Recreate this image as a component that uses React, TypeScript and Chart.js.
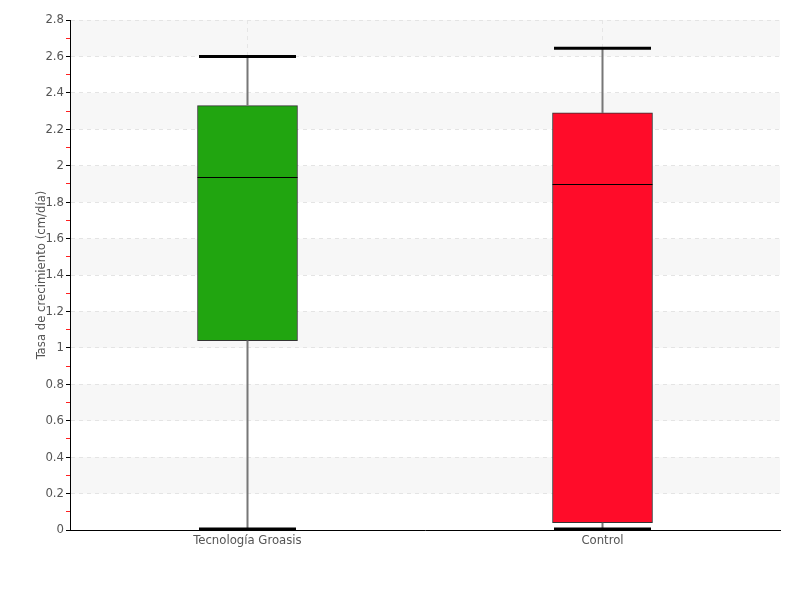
import React, { useEffect, useRef } from 'react';
import { Chart, registerables } from 'chart.js';

Chart.register(...registerables);

const categories = ['Tecnología Groasis', 'Control'];
const minValues = [0.005, 0.005];
const q1Values = [1.04, 0.04];
const medianValues = [1.94, 1.9];
const q3Values = [2.33, 2.29];
const maxValues = [2.6, 2.645];
const boxColors = ['#21a510', '#ff0c29'];
const yMin = 0;
const yMax = 2.8;
const yStep = 0.1;
const bandRanges = [
  [0.2, 0.4],
  [0.6, 0.8],
  [1.0, 1.2],
  [1.4, 1.6],
  [1.8, 2.0],
  [2.2, 2.4],
  [2.6, 2.8],
];
const yTitle = 'Tasa de crecimiento (cm/día)';

const FONT = "'Liberation Sans Narrow', 'DejaVu Sans Condensed', sans-serif";

const bandPlugin = {
  id: 'bands',
  beforeDraw(chart: any) {
    const { ctx, chartArea, scales } = chart;
    const y = scales.y;
    ctx.save();
    ctx.fillStyle = '#f7f7f7';
    bandRanges.forEach(([a, b]) => {
      const y1 = y.getPixelForValue(b);
      const y2 = y.getPixelForValue(a);
      ctx.fillRect(chartArea.left, y1, chartArea.right - chartArea.left, y2 - y1);
    });
    ctx.restore();
  },
};

const whiskerPlugin = {
  id: 'whiskers',
  afterDatasetsDraw(chart: any) {
    const { ctx, scales } = chart;
    const x = scales.x;
    const y = scales.y;
    const meta = chart.getDatasetMeta(0);
    ctx.save();
    categories.forEach((_, i) => {
      const cx = x.getPixelForValue(i);
      const bar = meta.data[i];
      const half = bar ? bar.width / 2 : 50;
      const capHalf = half - 1.5;
      const pMin = y.getPixelForValue(minValues[i]);
      const pQ1 = y.getPixelForValue(q1Values[i]);
      const pMed = y.getPixelForValue(medianValues[i]);
      const pQ3 = y.getPixelForValue(q3Values[i]);
      const pMax = y.getPixelForValue(maxValues[i]);
      // whiskers
      ctx.strokeStyle = '#777777';
      ctx.lineWidth = 2;
      ctx.beginPath();
      ctx.moveTo(cx, pQ1);
      ctx.lineTo(cx, pMin);
      ctx.moveTo(cx, pQ3);
      ctx.lineTo(cx, pMax);
      ctx.stroke();
      // caps
      ctx.strokeStyle = '#000000';
      ctx.lineWidth = 3;
      ctx.beginPath();
      ctx.moveTo(cx - capHalf, pMin);
      ctx.lineTo(cx + capHalf, pMin);
      ctx.moveTo(cx - capHalf, pMax);
      ctx.lineTo(cx + capHalf, pMax);
      ctx.stroke();
      // median
      ctx.strokeStyle = '#000000';
      ctx.lineWidth = 1;
      ctx.beginPath();
      ctx.moveTo(cx - half, Math.round(pMed) + 0.5);
      ctx.lineTo(cx + half, Math.round(pMed) + 0.5);
      ctx.stroke();
    });
    ctx.restore();
  },
};

function fmt(v: number) {
  return String(Number(v.toFixed(1)));
}

export default function App() {
  const ref = useRef<HTMLCanvasElement | null>(null);
  useEffect(() => {
    if (!ref.current) return;
    const chart = new Chart(ref.current, {
      type: 'bar',
      data: {
        labels: categories,
        datasets: [
          {
            data: categories.map((_, i) => [q1Values[i], q3Values[i]]) as any,
            backgroundColor: boxColors,
            borderColor: '#333333',
            borderWidth: 1,
            borderSkipped: false,
            barThickness: 100,
          },
        ],
      },
      options: {
        animation: false,
        responsive: true,
        maintainAspectRatio: false,
        layout: { padding: { top: 20, right: 20, left: 0, bottom: 0 } },
        plugins: {
          legend: { display: false },
          tooltip: { enabled: false },
        },
        scales: {
          x: {
            grid: {
              display: true,
              offset: false,
              color: '#e6e6e6',
              drawTicks: false,
            },
            border: { display: true, color: '#000000', width: 1, dash: [4, 4] },
            ticks: {
              color: '#555555',
              font: { family: FONT, size: 13 },
              padding: 3,
            },
            afterFit(scale: any) {
              scale.height = 70;
            },
          },
          y: {
            min: yMin,
            max: yMax,
            ticks: {
              stepSize: yStep,
              autoSkip: false,
              color: '#555555',
              font: { family: FONT, size: 13 },
              padding: 2,
              callback(value: any, index: number) {
                return index % 2 === 0 ? fmt(Number(value)) : '';
              },
            },
            grid: {
              color: (c: any) => (c.index % 2 === 0 ? '#e4e4e4' : 'rgba(0,0,0,0)'),
              tickColor: (c: any) => (c.index % 2 === 0 ? '#000000' : '#ff2020'),
              tickLength: 4,
              drawTicks: true,
            },
            border: { display: true, color: '#000000', width: 1, dash: [4, 4] },
            title: {
              display: true,
              text: yTitle,
              color: '#555555',
              font: { family: FONT, size: 13 },
              padding: { top: 34, bottom: 0 },
            },
            afterFit(scale: any) {
              scale.width = 70;
            },
          },
        },
      },
      plugins: [bandPlugin, whiskerPlugin],
    });
    return () => chart.destroy();
  }, []);
  return (
    <div style={{ position: 'absolute', left: 0, top: 0, width: 800, height: 600, background: '#ffffff' }}>
      <canvas ref={ref} />
    </div>
  );
}
